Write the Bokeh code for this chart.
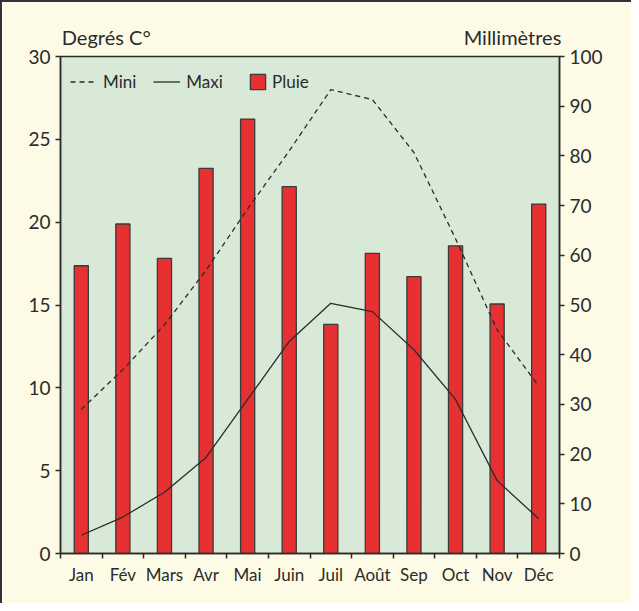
from bokeh.plotting import figure
from bokeh.models import (Range1d, LinearAxis, FixedTicker, Legend, LegendItem,
                          ColumnDataSource)
from bokeh.embed import file_html
from bokeh.resources import INLINE

months = ["Jan", "Fév", "Mars", "Avr", "Mai", "Juin", "Juil", "Août", "Sep", "Oct", "Nov", "Déc"]
mini = [8.7, 11.1, 13.8, 17.1, 20.8, 24.3, 28.0, 27.4, 24.2, 19.0, 13.5, 10.1]
maxi = [1.1, 2.2, 3.7, 5.8, 9.3, 12.8, 15.1, 14.6, 12.3, 9.3, 4.4, 2.1]
pluie = [57.9, 66.3, 59.4, 77.5, 87.4, 73.8, 46.1, 60.4, 55.7, 61.9, 50.2, 70.3]
temp_ticks = [0, 5, 10, 15, 20, 25, 30]
mm_ticks = [0, 10, 20, 30, 40, 50, 60, 70, 80, 90, 100]
unit_titles = ["Degrés C°", "Millimètres"]

FONT = "Lato"
INK = "#2b2b2b"

xs = [i + 0.5 for i in range(len(months))]
src = ColumnDataSource(dict(x=xs, mini=mini, maxi=maxi, pluie=pluie))

p = figure(frame_width=499, frame_height=497, output_backend="svg", toolbar_location=None,
           x_range=Range1d(0, 12), y_range=Range1d(0, 30),
           min_border_left=58, min_border_right=72, min_border_top=54, min_border_bottom=50,
           background_fill_color="#d8e9d8", border_fill_color="#fdfbe6")
p.styles = {"border-top": "2px solid #333", "border-left": "2px solid #333"}
p.extra_y_ranges = {"mm": Range1d(0, 100)}
p.grid.visible = False
p.outline_line_color = INK
p.outline_line_width = 1.5

bars = p.vbar(x="x", top="pluie", width=0.34, source=src, y_range_name="mm",
              fill_color="#e63032", line_color="#3a3a3a", line_width=1.3)
l_mini = p.line(x="x", y="mini", source=src, line_color=INK, line_width=1.3, line_dash="5 4")
l_maxi = p.line(x="x", y="maxi", source=src, line_color=INK, line_width=1.3)

def style_axis(ax):
    ax.axis_line_color = INK
    ax.axis_line_width = 1.5
    ax.major_tick_line_color = INK
    ax.major_tick_line_width = 1.5
    ax.major_tick_in = 0
    ax.major_tick_out = 5
    ax.minor_tick_line_color = None
    ax.major_label_text_font = FONT
    ax.major_label_text_font_size = "19px"
    ax.major_label_text_color = INK
    ax.major_label_standoff = 5

ya = p.yaxis[0]
ya.ticker = FixedTicker(ticks=temp_ticks)
style_axis(ya)

ra = LinearAxis(y_range_name="mm", ticker=FixedTicker(ticks=mm_ticks))
style_axis(ra)
p.add_layout(ra, "right")

xa = p.xaxis[0]
xa.ticker = FixedTicker(ticks=xs, minor_ticks=list(range(len(months) + 1)))
xa.major_label_overrides = {x: m for x, m in zip(xs, months)}
style_axis(xa)
xa.major_tick_out = 0
xa.minor_tick_line_color = INK
xa.minor_tick_line_width = 1.5
xa.minor_tick_in = 0
xa.minor_tick_out = 5
xa.major_label_text_font_size = "17px"
xa.major_label_standoff = 5

# unit captions above the frame, as labels of a bare top axis
title_pos = [1.1, 10.87]
ta = LinearAxis(ticker=FixedTicker(ticks=title_pos))
ta.major_label_overrides = {x: t for x, t in zip(title_pos, unit_titles)}
ta.axis_line_color = None
ta.major_tick_line_color = None
ta.minor_tick_line_color = None
ta.major_tick_out = 0
ta.major_tick_in = 0
ta.major_label_text_font = FONT
ta.major_label_text_font_size = "20px"
ta.major_label_text_color = INK
ta.major_label_standoff = 8
p.add_layout(ta, "above")

leg1 = Legend(items=[LegendItem(label="Mini", renderers=[l_mini]),
                     LegendItem(label="Maxi", renderers=[l_maxi])],
              orientation="horizontal", location=(10, 461), padding=0, margin=0,
              spacing=17, glyph_width=27, glyph_height=19, label_standoff=6,
              background_fill_alpha=0, border_line_color=None,
              label_text_font=FONT, label_text_font_size="17px", label_text_color=INK)
leg2 = Legend(items=[LegendItem(label="Pluie", renderers=[bars])],
              orientation="horizontal", location=(188, 461), padding=0, margin=0,
              glyph_width=19, glyph_height=19, label_standoff=5,
              background_fill_alpha=0, border_line_color=None,
              label_text_font=FONT, label_text_font_size="17px", label_text_color=INK)
p.add_layout(leg1)
p.add_layout(leg2)

open("out.html", "w").write(file_html(p, INLINE))
